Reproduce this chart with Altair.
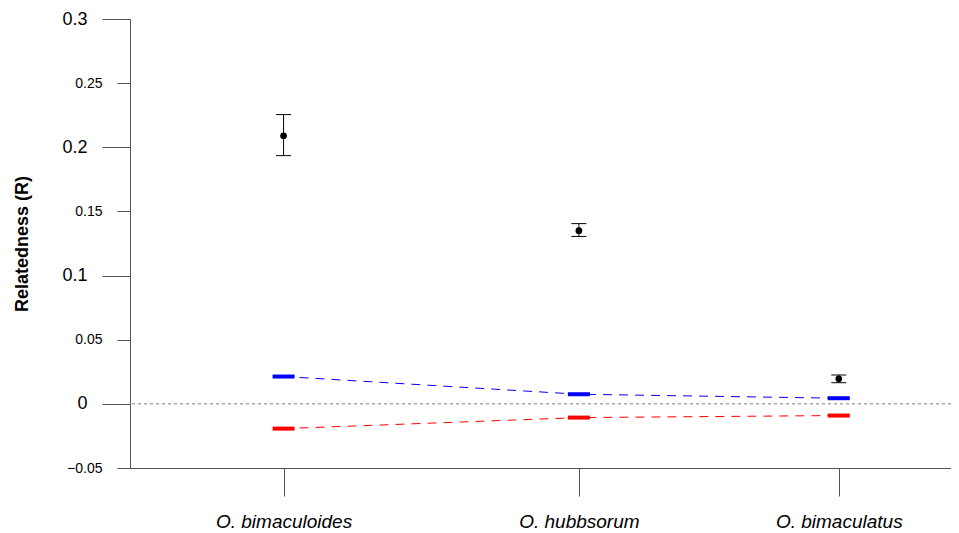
import altair as alt
import pandas as pd

# ---- data ----
species = ["O. bimaculoides", "O. hubbsorum", "O. bimaculatus"]
x_pos = [1, 2, 2.88]
r_mean = [0.209, 0.135, 0.0195]
r_low = [0.1935, 0.1305, 0.0165]
r_high = [0.2255, 0.1405, 0.0225]
upper_null = [0.0213, 0.0075, 0.0044]
lower_null = [-0.0193, -0.0107, -0.0091]
y_ticks = [-0.05, 0, 0.05, 0.1, 0.15, 0.2, 0.25, 0.3]
zero_line = [0]

FONT = "Liberation Sans"

df = pd.DataFrame({
    "species": species, "x": x_pos, "mean": r_mean,
    "low": r_low, "high": r_high,
    "upper": upper_null, "lower": lower_null,
})
zero_df = pd.DataFrame({"y": zero_line})

label_expr = " : ".join(
    f"abs(datum.value - {p}) < 0.01 ? '{s}'" for p, s in zip(x_pos, species)
) + " : ''"

major_test = "abs(round(datum.value * 10) - datum.value * 10) < 0.001"

x_enc = alt.X(
    "x:Q",
    scale=alt.Scale(domain=[0.48, 3.26], nice=False, zero=False),
    axis=alt.Axis(
        values=x_pos, labelExpr=label_expr, title=None, grid=False,
        tickSize=28, tickColor="#555555", domainColor="#555555",
        labelFontSize=19, labelFontStyle="italic", labelFont=FONT,
        labelColor="black", labelPadding=16, labelFlush=False,
    ),
)
y_scale = alt.Scale(domain=[-0.05, 0.3], nice=False, zero=False)
y_axis = alt.Axis(
    values=y_ticks, title="Relatedness (R)", grid=False,
    titleFont=FONT, titleFontSize=18, titleFontWeight="bold", titleColor="black",
    titlePadding=30,
    tickColor="#555555", domainColor="#555555",
    tickSize=alt.condition(major_test, alt.value(28), alt.value(13)),
    labelFontSize=alt.condition(major_test, alt.value(18), alt.value(14)),
    labelPadding=alt.condition(major_test, alt.value(15), alt.value(15)),
    labelFont=FONT, labelColor="black",
    format="~g",
)

base = alt.Chart(df)

zero = alt.Chart(zero_df).mark_rule(
    color="#808080", strokeDash=[3, 3], strokeWidth=1
).encode(y=alt.Y("y:Q", scale=y_scale, axis=y_axis))

line_up = base.mark_line(color="#0000FF", strokeDash=[9, 7], strokeWidth=1).encode(
    x=x_enc, y=alt.Y("upper:Q", scale=y_scale))
line_lo = base.mark_line(color="#FF0000", strokeDash=[9, 7], strokeWidth=1).encode(
    x=x_enc, y=alt.Y("lower:Q", scale=y_scale))

tick_up = base.mark_tick(color="#0000FF", orient="horizontal", size=22, thickness=4, opacity=1).encode(
    x=x_enc, y=alt.Y("upper:Q", scale=y_scale))
tick_lo = base.mark_tick(color="#FF0000", orient="horizontal", size=22, thickness=4, opacity=1).encode(
    x=x_enc, y=alt.Y("lower:Q", scale=y_scale))

err = base.mark_rule(color="black", strokeWidth=1).encode(
    x=x_enc, y=alt.Y("low:Q", scale=y_scale), y2="high:Q")
cap_lo = base.mark_tick(color="black", orient="horizontal", size=15, thickness=1, opacity=1).encode(
    x=x_enc, y=alt.Y("low:Q", scale=y_scale))
cap_hi = base.mark_tick(color="black", orient="horizontal", size=15, thickness=1, opacity=1).encode(
    x=x_enc, y=alt.Y("high:Q", scale=y_scale))
pts = base.mark_circle(color="black", size=45, opacity=1).encode(
    x=x_enc, y=alt.Y("mean:Q", scale=y_scale))

chart = alt.layer(
    zero, line_up, line_lo, tick_up, tick_lo, err, cap_lo, cap_hi, pts
).properties(
    width=821, height=449,
    autosize=alt.AutoSizeParams(type="none"),
    padding={"left": 122, "top": 11, "right": 0, "bottom": 64},
    background="white",
).configure_view(stroke=None)

chart.save("out.html", embed_options={"renderer": "svg", "actions": False})
